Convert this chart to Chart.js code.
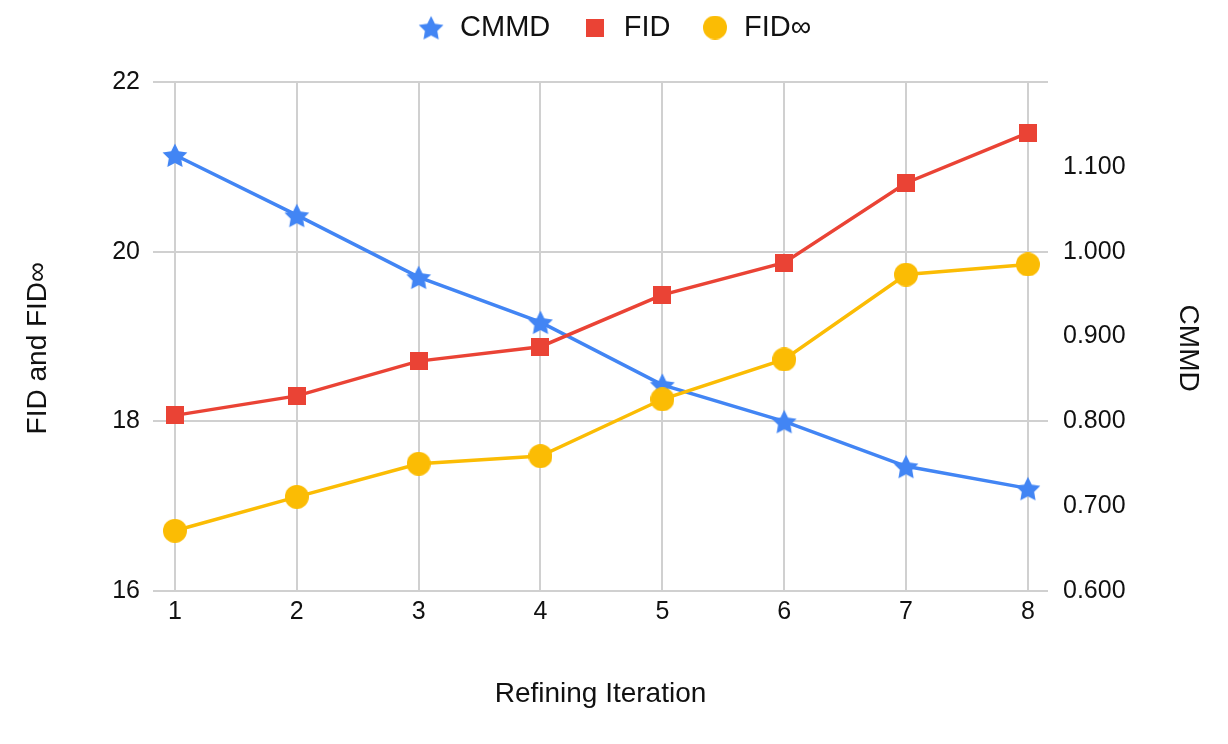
<!DOCTYPE html>
<html lang="en">
<head>
<meta charset="UTF-8">
<title>Refining Iteration</title>
<script src="https://cdn.jsdelivr.net/npm/chart.js"></script>
<style>
    html, body { margin: 0; padding: 0; background: #fff; }
    .chart-container { position: relative; width: 1228px; height: 744px; }
</style>
</head>
<body>
<div class="chart-container">
    <canvas id="refineChart"></canvas>
</div>
<script>
// data
const iterations = [1, 2, 3, 4, 5, 6, 7, 8];
const cmmdValues = [1.114, 1.043, 0.970, 0.917, 0.843, 0.800, 0.747, 0.721];
const fidValues = [18.07, 18.30, 18.71, 18.88, 19.49, 19.87, 20.81, 21.40];
const fidInfValues = [16.71, 17.11, 17.50, 17.59, 18.26, 18.73, 19.73, 19.85];
const fidTicks = [16, 18, 20, 22];
const cmmdTicks = [0.6, 0.7, 0.8, 0.9, 1.0, 1.1];

const BLUE = '#4285F4';
const RED = '#EA4335';
const YELLOW = '#FBBC04';
const INK = '#111';
const FONT = "'Liberation Sans', Arial, sans-serif";

// marker images (filled star, square, dot)
function makeMarker(kind, size, color) {
    const c = document.createElement('canvas');
    c.width = size;
    c.height = size;
    const g = c.getContext('2d');
    g.fillStyle = color;
    const m = size / 2;
    g.beginPath();
    if (kind === 'star') {
        const outer = m, inner = m * 0.5;
        for (let i = 0; i < 10; i++) {
            const r = i % 2 ? inner : outer;
            const a = -Math.PI / 2 + i * Math.PI / 5;
            g.lineTo(m + r * Math.cos(a), m + 1.5 + r * Math.sin(a));
        }
        g.closePath();
    } else if (kind === 'square') {
        g.rect(0, 0, size, size);
    } else {
        g.arc(m, m, m, 0, Math.PI * 2);
    }
    g.fill();
    return c;
}

const starImg = makeMarker('star', 26, BLUE);
const squareImg = makeMarker('square', 18, RED);
const dotImg = makeMarker('dot', 24, YELLOW);

// pin the legend block height so the plot top lands where it should
const legendFit = {
    id: 'legendFit',
    beforeUpdate(chart) {
        const lg = chart.legend;
        if (lg && !lg._pinned) {
            const orig = lg.fit;
            lg.fit = function () {
                orig.call(this);
                this.height = 99;
            };
            lg._pinned = true;
        }
    }
};

new Chart(document.getElementById('refineChart'), {
    type: 'line',
    data: {
        datasets: [{
            label: 'CMMD',
            data: iterations.map((x, i) => ({x: x, y: cmmdValues[i]})),
            yAxisID: 'yRight',
            borderColor: BLUE,
            backgroundColor: BLUE,
            borderWidth: 3.5,
            pointStyle: starImg,
            pointRadius: 12,
            order: 2
        }, {
            label: 'FID',
            data: iterations.map((x, i) => ({x: x, y: fidValues[i]})),
            yAxisID: 'yLeft',
            borderColor: RED,
            backgroundColor: RED,
            borderWidth: 3.5,
            pointStyle: squareImg,
            pointRadius: 10,
            order: 1
        }, {
            label: 'FID\u221E',
            data: iterations.map((x, i) => ({x: x, y: fidInfValues[i]})),
            yAxisID: 'yLeft',
            borderColor: YELLOW,
            backgroundColor: YELLOW,
            borderWidth: 3.5,
            pointStyle: dotImg,
            pointRadius: 12,
            order: 0
        }]
    },
    options: {
        responsive: true,
        maintainAspectRatio: false,
        animation: false,
        layout: { padding: { top: -17, left: 0, right: 0, bottom: 0 } },
        plugins: {
            legend: {
                position: 'top',
                labels: {
                    usePointStyle: true,
                    boxWidth: 29,
                    padding: 30,
                    color: INK,
                    font: { family: FONT, size: 29 },
                    sort: (a, b) => a.datasetIndex - b.datasetIndex
                }
            },
            tooltip: { enabled: false }
        },
        scales: {
            x: {
                type: 'linear',
                min: 0.82,
                max: 8.165,
                afterBuildTicks: axis => { axis.ticks = iterations.map(v => ({value: v})); },
                afterFit: axis => { axis.height = 153; },
                grid: { color: '#d0d0d0', lineWidth: 2, drawTicks: false },
                border: { display: false },
                ticks: {
                    padding: 6,
                    color: INK,
                    font: { family: FONT, size: 25 },
                    callback: v => String(v)
                },
                title: {
                    display: true,
                    text: 'Refining Iteration',
                    color: INK,
                    font: { family: FONT, size: 28 },
                    padding: { top: 0, bottom: 33 }
                }
            },
            yLeft: {
                type: 'linear',
                position: 'left',
                min: 16,
                max: 22,
                afterBuildTicks: axis => { axis.ticks = fidTicks.map(v => ({value: v})); },
                afterFit: axis => { axis.width = 153; },
                grid: { color: '#d0d0d0', lineWidth: 2, drawTicks: false },
                border: { display: false },
                ticks: {
                    padding: 13,
                    color: INK,
                    font: { family: FONT, size: 25 }
                },
                title: {
                    display: true,
                    text: 'FID and FID\u221E   ',
                    color: INK,
                    font: { family: FONT, size: 28 },
                    padding: { top: 21, bottom: 0 }
                }
            },
            yRight: {
                type: 'linear',
                position: 'right',
                min: 0.6,
                max: 1.2,
                afterBuildTicks: axis => { axis.ticks = cmmdTicks.map(v => ({value: v})); },
                afterFit: axis => { axis.width = 180; },
                grid: { display: false, drawTicks: false },
                border: { display: false },
                ticks: {
                    padding: 15,
                    color: INK,
                    font: { family: FONT, size: 25 },
                    callback: v => Number(v).toFixed(3)
                },
                title: {
                    display: true,
                    text: '   CMMD',
                    color: INK,
                    font: { family: FONT, size: 28 },
                    padding: { top: 23, bottom: 0 }
                }
            }
        }
    },
    plugins: [legendFit]
});
</script>
</body>
</html>
